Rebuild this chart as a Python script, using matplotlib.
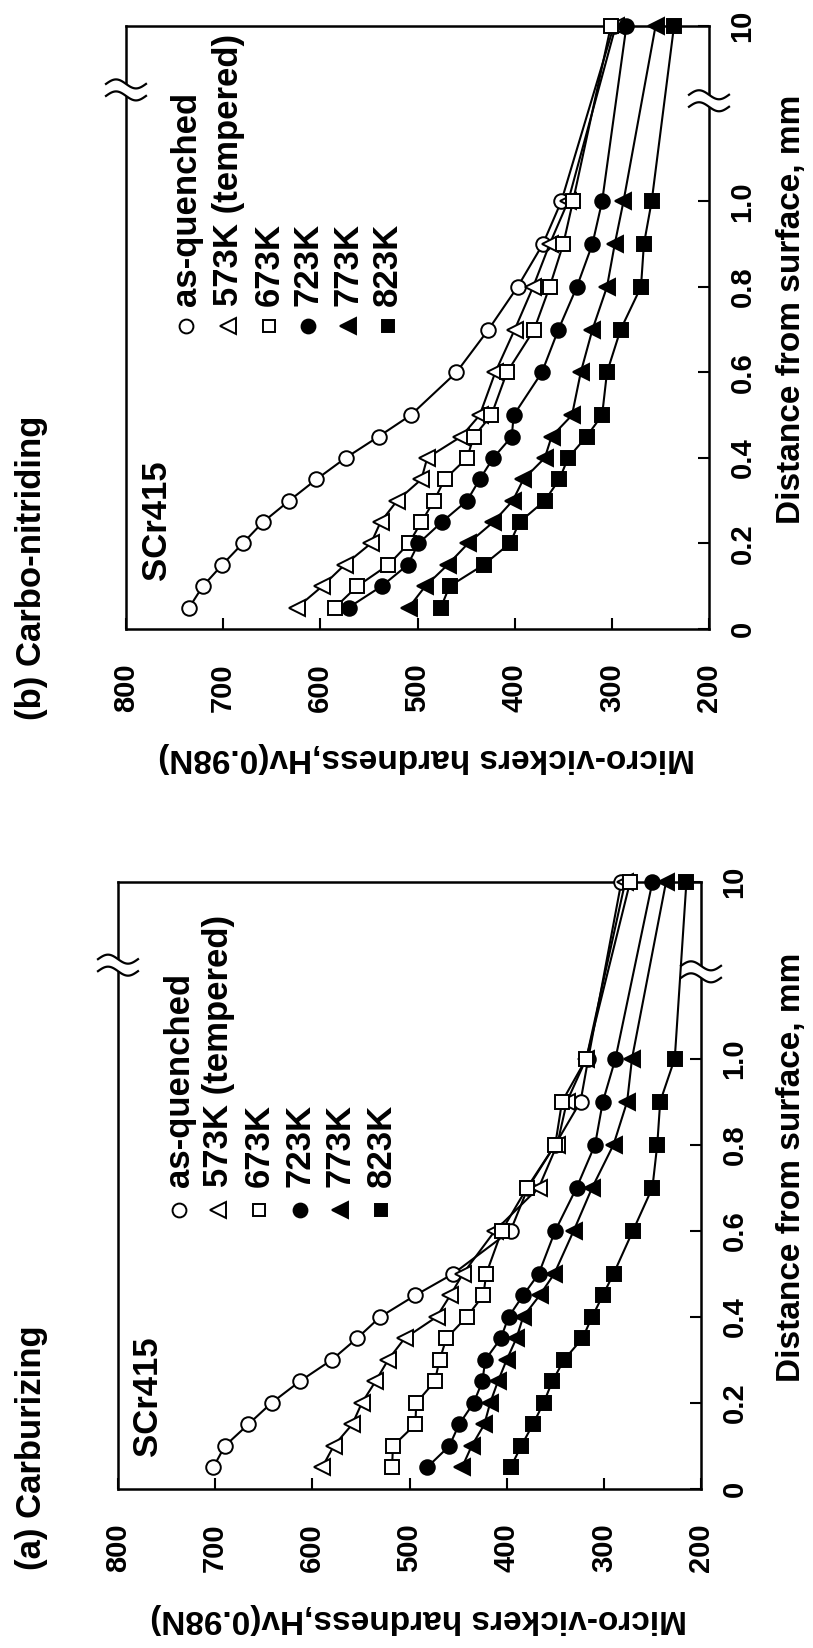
import numpy as np
import matplotlib
matplotlib.use("Agg")
import matplotlib.pyplot as plt
from matplotlib.patches import Rectangle

plt.rcParams["font.family"] = ["Liberation Sans", "DejaVu Sans"]
plt.rcParams["font.weight"] = "bold"

# Distance from surface (mm); the last point lies beyond the axis break
depth = [0.05, 0.1, 0.15, 0.2, 0.25, 0.3, 0.35, 0.4, 0.45, 0.5, 0.6, 0.7, 0.8, 0.9, 1.0, 10]

series_labels = ["as-quenched", "573K (tempered)", "673K", "723K", "773K", "823K"]

# (a) Carburizing, Hv(0.98N)
carb_aq  = [702, 690, 666, 642, 613, 580, 554, 530, 494, 455, 396, 378, 350, 324, 316, 282]
carb_573 = [590, 578, 559, 549, 535, 522, 505, 472, 458, 445, 412, 367, 348, 338, 318, 278]
carb_673 = [518, 517, 494, 493, 474, 469, 462, 441, 424, 421, 405, 379, 350, 343, 318, 273]
carb_723 = [482, 459, 449, 434, 425, 422, 406, 398, 383, 367, 350, 328, 309, 301, 288, 250]
carb_773 = [446, 436, 423, 417, 409, 400, 390, 383, 366, 351, 331, 312, 290, 276, 271, 236]
carb_823 = [396, 385, 373, 362, 353, 341, 322, 312, 301, 290, 270, 250, 245, 242, 227, 215]

# (b) Carbo-nitriding, Hv(0.98N)
cn_aq  = [735, 721, 701, 680, 659, 632, 604, 574, 540, 507, 460, 427, 397, 371, 352, 298]
cn_573 = [624, 598, 575, 548, 538, 521, 496, 490, 455, 436, 420, 400, 381, 364, 345, 296]
cn_673 = [585, 562, 530, 509, 496, 483, 472, 449, 442, 424, 408, 380, 364, 350, 340, 301]
cn_723 = [571, 537, 510, 499, 475, 449, 436, 422, 403, 401, 372, 355, 336, 320, 310, 285]
cn_773 = [509, 492, 469, 448, 422, 402, 391, 369, 362, 341, 332, 320, 305, 297, 288, 255]
cn_823 = [476, 467, 432, 405, 395, 369, 354, 345, 326, 310, 305, 291, 270, 267, 259, 236]

hardness_ticks = [800, 700, 600, 500, 400, 300, 200]
depth_ticks = [0, 0.2, 0.4, 0.6, 0.8, 1.0, 10]
depth_ticklabels = ["0", "0.2", "0.4", "0.6", "0.8", "1.0", "10"]

# marker, face colour, size
styles = [
    ("o", "white", 10.5),
    ("<", "white", 12),
    ("s", "white", 9.5),
    ("o", "black", 10.5),
    ("<", "black", 12),
    ("s", "black", 9.5),
]

# Broken depth axis: 0-1 mm linear, then a compressed jump up to 10 mm
SPAN_AFTER_BREAK = 0.41


def fwd(d):
    d = np.asarray(d, dtype=float)
    return np.where(d <= 1.0, d, 1.0 + (d - 1.0) * SPAN_AFTER_BREAK / 9.0)


def inv(p):
    p = np.asarray(p, dtype=float)
    return np.where(p <= 1.0, p, 1.0 + (p - 1.0) * 9.0 / SPAN_AFTER_BREAK)


W, H = 813, 1648
fig = plt.figure(figsize=(W / 100, H / 100), dpi=100)


def draw_break(ax, xfrac, yfrac):
    """Blank the spine and draw a double wavy break symbol across it."""
    bb = ax.get_position()
    wpx, hpx = bb.width * W, bb.height * H
    half_w = 20 / wpx
    amp = 4.5 / hpx
    gap = 12 / hpx
    ax.add_patch(Rectangle((xfrac - 3 / wpx, yfrac - gap / 2), 6 / wpx, gap,
                           transform=ax.transAxes, facecolor="white",
                           edgecolor="none", zorder=5, clip_on=False))
    t = np.linspace(0, 1, 60)
    xs = xfrac - half_w + 2 * half_w * t
    for off in (gap / 2, -gap / 2):
        ax.plot(xs, yfrac + off + amp * np.sin(2 * np.pi * t), color="black",
                lw=1.6, transform=ax.transAxes, clip_on=False, zorder=6)


def panel(rect, data, title, title_xy, legend_x, legend_marker_y, legend_text_y,
          grade_xy, breaks):
    ax = fig.add_axes(rect)
    ax.set_yscale("function", functions=(fwd, inv))
    for i, (vals, (mk, fc, ms)) in enumerate(zip(data, styles)):
        ax.plot(vals, depth, color="black", lw=1.5, marker=mk, ms=ms,
                mfc=fc, mec="black", mew=1.4, clip_on=False, zorder=3 + i * 0.1)
    ax.set_xlim(800, 200)
    ax.set_ylim(0, 10)
    ax.set_xticks(hardness_ticks)
    ax.set_xticklabels([str(v) for v in hardness_ticks], rotation=90,
                       fontsize=21, fontweight="bold")
    ax.set_yticks(depth_ticks)
    ax.set_yticklabels(depth_ticklabels, rotation=90, fontsize=21,
                       fontweight="bold", va="center")
    ax.minorticks_off()
    ax.tick_params(axis="x", direction="in", length=8, width=1.5, pad=25,
                   top=False, bottom=True)
    ax.tick_params(axis="y", direction="in", length=8, width=1.5, pad=14,
                   left=False, right=True, labelleft=False, labelright=True)
    for s in ax.spines.values():
        s.set_linewidth(1.8)

    # box edges in figure pixels, used to place the axis titles
    bb = ax.get_position()
    left_px = bb.x0 * W
    width_px = bb.width * W

    ax.set_xlabel("Micro-vickers hardness,Hv(0.98N)", fontsize=24,
                  fontweight="bold", rotation=180, ha="center", va="center")
    ax.xaxis.set_label_coords(0.515, -0.213)
    ax.yaxis.set_label_position("right")
    ax.set_ylabel("Distance from surface, mm", fontsize=24, fontweight="bold",
                  rotation=90, ha="center", va="center")
    ax.yaxis.set_label_coords((791 - left_px) / width_px, 0.53)

    # key drawn upright along the depth direction
    for j, (lab, (mk, fc, ms)) in enumerate(zip(series_labels, styles)):
        ax.plot([legend_x[j]], [legend_marker_y], transform=ax.transAxes,
                marker=mk, ms=ms * 0.95, mfc=fc, mec="black", mew=1.4,
                linestyle="none", clip_on=False)
        ax.text(legend_x[j], legend_text_y, lab, transform=ax.transAxes,
                rotation=90, rotation_mode="anchor", ha="left", va="center",
                fontsize=25, fontweight="bold")

    ax.text(grade_xy[0], grade_xy[1], "SCr415", transform=ax.transAxes,
            rotation=90, rotation_mode="anchor", ha="left", va="center",
            fontsize=25, fontweight="bold")

    fig.text(title_xy[0], title_xy[1], title, rotation=90, rotation_mode="anchor",
             ha="left", va="center", fontsize=25, fontweight="bold")

    for xf, yf in breaks:
        draw_break(ax, xf, yf)
    return ax


panel([126 / W, 1 - 629 / H, 583 / W, 603 / H],
      [cn_aq, cn_573, cn_673, cn_723, cn_773, cn_823],
      "(b) Carbo-nitriding", (31 / W, 1 - 720 / H),
      [0.103, 0.175, 0.245, 0.312, 0.381, 0.449], 0.502, 0.536,
      (0.053, 0.081), [(0.0, 0.894), (1.0, 0.876)])

panel([118 / W, 1 - 1489 / H, 583 / W, 607 / H],
      [carb_aq, carb_573, carb_673, carb_723, carb_773, carb_823],
      "(a) Carburizing", (31 / W, 1 - 1570 / H),
      [0.105, 0.172, 0.242, 0.312, 0.381, 0.451], 0.46, 0.4975,
      (0.051, 0.054), [(0.0, 0.863), (1.0, 0.852)])

fig.savefig("out.png", dpi=100)
